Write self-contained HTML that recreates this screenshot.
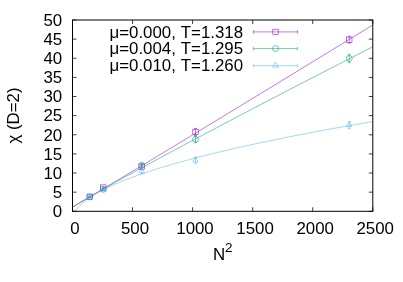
<!DOCTYPE html>
<html><head><meta charset="utf-8"><title>plot</title>
<style>html,body{margin:0;padding:0;background:#fff}body{width:403px;height:282px;overflow:hidden;font-family:"Liberation Sans",sans-serif}svg{will-change:transform}</style></head>
<body>
<svg width="403" height="282" viewBox="0 0 403 282" style="display:block">
<rect width="403" height="282" fill="#fff"/>
<g font-family="Liberation Sans, sans-serif" font-size="16.85" fill="#000">
<path d="M72.5 211.30h4.0M372.8 211.30h-4.0" stroke="#000" stroke-width="0.75" fill="none"/>
<text x="62.2" y="217.10" text-anchor="end">0</text>
<path d="M72.5 192.17h4.0M372.8 192.17h-4.0" stroke="#000" stroke-width="0.75" fill="none"/>
<text x="62.2" y="197.97" text-anchor="end">5</text>
<path d="M72.5 173.04h4.0M372.8 173.04h-4.0" stroke="#000" stroke-width="0.75" fill="none"/>
<text x="62.2" y="178.84" text-anchor="end">10</text>
<path d="M72.5 153.91h4.0M372.8 153.91h-4.0" stroke="#000" stroke-width="0.75" fill="none"/>
<text x="62.2" y="159.71" text-anchor="end">15</text>
<path d="M72.5 134.78h4.0M372.8 134.78h-4.0" stroke="#000" stroke-width="0.75" fill="none"/>
<text x="62.2" y="140.58" text-anchor="end">20</text>
<path d="M72.5 115.65h4.0M372.8 115.65h-4.0" stroke="#000" stroke-width="0.75" fill="none"/>
<text x="62.2" y="121.45" text-anchor="end">25</text>
<path d="M72.5 96.52h4.0M372.8 96.52h-4.0" stroke="#000" stroke-width="0.75" fill="none"/>
<text x="62.2" y="102.32" text-anchor="end">30</text>
<path d="M72.5 77.39h4.0M372.8 77.39h-4.0" stroke="#000" stroke-width="0.75" fill="none"/>
<text x="62.2" y="83.19" text-anchor="end">35</text>
<path d="M72.5 58.26h4.0M372.8 58.26h-4.0" stroke="#000" stroke-width="0.75" fill="none"/>
<text x="62.2" y="64.06" text-anchor="end">40</text>
<path d="M72.5 39.13h4.0M372.8 39.13h-4.0" stroke="#000" stroke-width="0.75" fill="none"/>
<text x="62.2" y="44.93" text-anchor="end">45</text>
<path d="M72.5 20.00h4.0M372.8 20.00h-4.0" stroke="#000" stroke-width="0.75" fill="none"/>
<text x="62.2" y="25.80" text-anchor="end">50</text>
<path d="M72.50 211.3v-4.0M72.50 20.0v4.0" stroke="#000" stroke-width="0.75" fill="none"/>
<text x="74.90" y="234.3" text-anchor="middle">0</text>
<path d="M132.56 211.3v-4.0M132.56 20.0v4.0" stroke="#000" stroke-width="0.75" fill="none"/>
<text x="134.96" y="234.3" text-anchor="middle">500</text>
<path d="M192.62 211.3v-4.0M192.62 20.0v4.0" stroke="#000" stroke-width="0.75" fill="none"/>
<text x="195.02" y="234.3" text-anchor="middle">1000</text>
<path d="M252.68 211.3v-4.0M252.68 20.0v4.0" stroke="#000" stroke-width="0.75" fill="none"/>
<text x="255.08" y="234.3" text-anchor="middle">1500</text>
<path d="M312.74 211.3v-4.0M312.74 20.0v4.0" stroke="#000" stroke-width="0.75" fill="none"/>
<text x="315.14" y="234.3" text-anchor="middle">2000</text>
<path d="M372.80 211.3v-4.0M372.80 20.0v4.0" stroke="#000" stroke-width="0.75" fill="none"/>
<text x="375.20" y="234.3" text-anchor="middle">2500</text>
<text transform="translate(19.2 115.5) rotate(-90)" text-anchor="middle">χ (D=2)</text>
<text x="212.9" y="260.1">N<tspan dy="-8.5" font-size="13.48">2</tspan></text>
<text x="175.9" y="37.50" text-anchor="end">μ=0.000,</text>
<text x="243.1" y="37.50" text-anchor="end">T=1.318</text>
<path d="M253.4 31.9H297.4M253.4 30.2v3.4M297.4 30.2v3.4" stroke="#9400d3" stroke-width="0.55" fill="none"/>
<rect x="272.80" y="29.20" width="5.4" height="5.4" fill="none" stroke="#9400d3" stroke-width="0.55"/>
<text x="175.9" y="54.20" text-anchor="end">μ=0.004,</text>
<text x="243.1" y="54.20" text-anchor="end">T=1.295</text>
<path d="M253.4 48.6H297.4M253.4 46.9v3.4M297.4 46.9v3.4" stroke="#009e73" stroke-width="0.55" fill="none"/>
<circle cx="275.50" cy="48.60" r="3.0" fill="none" stroke="#009e73" stroke-width="0.55"/>
<text x="175.9" y="71.30" text-anchor="end">μ=0.010,</text>
<text x="243.1" y="71.30" text-anchor="end">T=1.260</text>
<path d="M253.4 65.7H297.4M253.4 64.0v3.4M297.4 64.0v3.4" stroke="#56b4e9" stroke-width="0.55" fill="none"/>
<path d="M275.50 62.20L278.30 67.20H272.70Z" fill="none" stroke="#56b4e9" stroke-width="0.55"/>
</g>
<clipPath id="c"><rect x="72.5" y="20.0" width="300.3" height="191.3"/></clipPath>
<g clip-path="url(#c)" fill="none" stroke-width="0.55">
<path d="M72.50 206.90L75.02 205.46L77.55 203.99L80.07 202.52L82.59 201.03L85.12 199.55L87.64 198.06L90.16 196.56L92.69 195.07L95.21 193.57L97.74 192.07L100.26 190.57L102.78 189.06L105.31 187.56L107.83 186.05L110.35 184.54L112.88 183.03L115.40 181.52L117.92 180.01L120.45 178.50L122.97 176.98L125.49 175.47L128.02 173.95L130.54 172.44L133.06 170.92L135.59 169.40L138.11 167.89L140.64 166.37L143.16 164.85L145.68 163.33L148.21 161.80L150.73 160.28L153.25 158.76L155.78 157.24L158.30 155.71L160.82 154.19L163.35 152.67L165.87 151.14L168.39 149.61L170.92 148.09L173.44 146.56L175.96 145.03L178.49 143.51L181.01 141.98L183.54 140.45L186.06 138.92L188.58 137.39L191.11 135.86L193.63 134.33L196.15 132.80L198.68 131.27L201.20 129.74L203.72 128.21L206.25 126.68L208.77 125.14L211.29 123.61L213.82 122.08L216.34 120.55L218.86 119.01L221.39 117.48L223.91 115.94L226.44 114.41L228.96 112.87L231.48 111.34L234.01 109.80L236.53 108.27L239.05 106.73L241.58 105.19L244.10 103.66L246.62 102.12L249.15 100.58L251.67 99.05L254.19 97.51L256.72 95.97L259.24 94.43L261.76 92.89L264.29 91.36L266.81 89.82L269.34 88.28L271.86 86.74L274.38 85.20L276.91 83.66L279.43 82.12L281.95 80.58L284.48 79.04L287.00 77.50L289.52 75.95L292.05 74.41L294.57 72.87L297.09 71.33L299.62 69.79L302.14 68.25L304.66 66.70L307.19 65.16L309.71 63.62L312.24 62.08L314.76 60.53L317.28 58.99L319.81 57.45L322.33 55.90L324.85 54.36L327.38 52.81L329.90 51.27L332.42 49.72L334.95 48.18L337.47 46.64L339.99 45.09L342.52 43.54L345.04 42.00L347.56 40.45L350.09 38.91L352.61 37.36L355.14 35.82L357.66 34.27L360.18 32.72L362.71 31.18L365.23 29.63L367.75 28.08L370.28 26.54L372.80 24.99" stroke="#9400d3"/>
<path d="M72.50 207.47L75.02 205.79L77.55 204.21L80.07 202.68L82.59 201.16L85.12 199.66L87.64 198.18L90.16 196.70L92.69 195.24L95.21 193.79L97.74 192.34L100.26 190.90L102.78 189.46L105.31 188.04L107.83 186.61L110.35 185.19L112.88 183.78L115.40 182.37L117.92 180.96L120.45 179.56L122.97 178.16L125.49 176.76L128.02 175.36L130.54 173.97L133.06 172.59L135.59 171.20L138.11 169.82L140.64 168.44L143.16 167.06L145.68 165.68L148.21 164.31L150.73 162.94L153.25 161.57L155.78 160.20L158.30 158.83L160.82 157.47L163.35 156.11L165.87 154.75L168.39 153.39L170.92 152.03L173.44 150.68L175.96 149.32L178.49 147.97L181.01 146.62L183.54 145.27L186.06 143.92L188.58 142.58L191.11 141.23L193.63 139.89L196.15 138.54L198.68 137.20L201.20 135.86L203.72 134.52L206.25 133.19L208.77 131.85L211.29 130.51L213.82 129.18L216.34 127.85L218.86 126.51L221.39 125.18L223.91 123.85L226.44 122.52L228.96 121.19L231.48 119.87L234.01 118.54L236.53 117.22L239.05 115.89L241.58 114.57L244.10 113.25L246.62 111.92L249.15 110.60L251.67 109.28L254.19 107.97L256.72 106.65L259.24 105.33L261.76 104.01L264.29 102.70L266.81 101.38L269.34 100.07L271.86 98.76L274.38 97.44L276.91 96.13L279.43 94.82L281.95 93.51L284.48 92.20L287.00 90.89L289.52 89.58L292.05 88.28L294.57 86.97L297.09 85.66L299.62 84.36L302.14 83.05L304.66 81.75L307.19 80.45L309.71 79.14L312.24 77.84L314.76 76.54L317.28 75.24L319.81 73.94L322.33 72.64L324.85 71.34L327.38 70.04L329.90 68.74L332.42 67.45L334.95 66.15L337.47 64.85L339.99 63.56L342.52 62.26L345.04 60.97L347.56 59.68L350.09 58.38L352.61 57.09L355.14 55.80L357.66 54.51L360.18 53.21L362.71 51.92L365.23 50.63L367.75 49.34L370.28 48.06L372.80 46.77" stroke="#009e73"/>
<path d="M72.62 218.47L74.13 213.53L75.64 210.84L77.15 208.73L78.65 206.94L80.16 205.35L81.67 203.91L83.18 202.58L84.69 201.33L86.20 200.16L87.70 199.05L89.21 197.99L90.72 196.98L92.23 196.01L93.74 195.07L95.25 194.16L96.76 193.29L98.26 192.43L99.77 191.61L101.28 190.80L102.79 190.02L104.30 189.25L105.81 188.50L107.31 187.77L108.82 187.05L110.33 186.34L111.84 185.65L113.35 184.98L114.86 184.31L116.36 183.66L117.87 183.01L119.38 182.38L120.89 181.76L122.40 181.14L123.91 180.54L125.42 179.94L126.92 179.35L128.43 178.77L129.94 178.20L131.45 177.63L132.96 177.07L134.47 176.52L135.97 175.98L137.48 175.44L138.99 174.90L140.50 174.38L142.01 173.85L143.52 173.34L145.03 172.83L146.53 172.32L148.04 171.82L149.55 171.32L151.06 170.83L152.57 170.34L154.08 169.86L155.58 169.38L157.09 168.91L158.60 168.44L160.11 167.97L161.62 167.51L163.13 167.05L164.64 166.60L166.14 166.15L167.65 165.70L169.16 165.25L170.67 164.81L172.18 164.38L173.69 163.94L175.19 163.51L176.70 163.08L178.21 162.66L179.72 162.23L181.23 161.81L182.74 161.40L184.24 160.98L185.75 160.57L187.26 160.16L188.77 159.76L190.28 159.35L191.79 158.95L193.30 158.56L194.80 158.16L196.31 157.77L197.82 157.37L199.33 156.98L200.84 156.60L202.35 156.21L203.85 155.83L205.36 155.45L206.87 155.07L208.38 154.69L209.89 154.32L211.40 153.95L212.91 153.58L214.41 153.21L215.92 152.84L217.43 152.48L218.94 152.11L220.45 151.75L221.96 151.39L223.46 151.04L224.97 150.68L226.48 150.33L227.99 149.97L229.50 149.62L231.01 149.27L232.51 148.93L234.02 148.58L235.53 148.24L237.04 147.89L238.55 147.55L240.06 147.21L241.57 146.87L243.07 146.54L244.58 146.20L246.09 145.87L247.60 145.53L249.11 145.20L250.62 144.87L252.12 144.54L253.63 144.22L255.14 143.89L256.65 143.57L258.16 143.24L259.67 142.92L261.18 142.60L262.68 142.28L264.19 141.96L265.70 141.64L267.21 141.33L268.72 141.01L270.23 140.70L271.73 140.39L273.24 140.08L274.75 139.77L276.26 139.46L277.77 139.15L279.28 138.84L280.79 138.54L282.29 138.23L283.80 137.93L285.31 137.63L286.82 137.32L288.33 137.02L289.84 136.72L291.34 136.43L292.85 136.13L294.36 135.83L295.87 135.54L297.38 135.24L298.89 134.95L300.39 134.65L301.90 134.36L303.41 134.07L304.92 133.78L306.43 133.49L307.94 133.20L309.45 132.92L310.95 132.63L312.46 132.35L313.97 132.06L315.48 131.78L316.99 131.49L318.50 131.21L320.00 130.93L321.51 130.65L323.02 130.37L324.53 130.09L326.04 129.81L327.55 129.54L329.06 129.26L330.56 128.98L332.07 128.71L333.58 128.44L335.09 128.16L336.60 127.89L338.11 127.62L339.61 127.35L341.12 127.08L342.63 126.81L344.14 126.54L345.65 126.27L347.16 126.00L348.66 125.74L350.17 125.47L351.68 125.21L353.19 124.94L354.70 124.68L356.21 124.41L357.72 124.15L359.22 123.89L360.73 123.63L362.24 123.37L363.75 123.11L365.26 122.85L366.77 122.59L368.27 122.33L369.78 122.07L371.29 121.82L372.80 121.56" stroke="#56b4e9"/>
</g>
<g fill="none" stroke-width="0.55">
<path d="M89.80 196.19V197.34M88.30 196.19h3M88.30 197.34h3" stroke="#9400d3"/>
<rect x="87.10" y="194.06" width="5.4" height="5.4" fill="none" stroke="#9400d3" stroke-width="0.55"/>
<path d="M103.25 186.81V188.34M101.75 186.81h3M101.75 188.34h3" stroke="#9400d3"/>
<rect x="100.55" y="184.88" width="5.4" height="5.4" fill="none" stroke="#9400d3" stroke-width="0.55"/>
<path d="M141.69 164.81V168.64M140.19 164.81h3M140.19 168.64h3" stroke="#9400d3"/>
<rect x="138.99" y="164.03" width="5.4" height="5.4" fill="none" stroke="#9400d3" stroke-width="0.55"/>
<path d="M195.50 128.47V135.35M194.00 128.47h3M194.00 135.35h3" stroke="#9400d3"/>
<rect x="192.80" y="129.21" width="5.4" height="5.4" fill="none" stroke="#9400d3" stroke-width="0.55"/>
<path d="M349.26 36.26V43.15M347.76 36.26h3M347.76 43.15h3" stroke="#9400d3"/>
<rect x="346.56" y="37.00" width="5.4" height="5.4" fill="none" stroke="#9400d3" stroke-width="0.55"/>
<path d="M89.80 196.38V197.53M88.30 196.38h3M88.30 197.53h3" stroke="#009e73"/>
<circle cx="89.80" cy="196.95" r="3.0" fill="none" stroke="#009e73" stroke-width="0.55"/>
<path d="M103.25 188.54V190.07M101.75 188.54h3M101.75 190.07h3" stroke="#009e73"/>
<circle cx="103.25" cy="189.30" r="3.0" fill="none" stroke="#009e73" stroke-width="0.55"/>
<path d="M141.69 163.28V167.11M140.19 163.28h3M140.19 167.11h3" stroke="#009e73"/>
<circle cx="141.69" cy="165.20" r="3.0" fill="none" stroke="#009e73" stroke-width="0.55"/>
<path d="M195.50 136.12V142.62M194.00 136.12h3M194.00 142.62h3" stroke="#009e73"/>
<circle cx="195.50" cy="139.37" r="3.0" fill="none" stroke="#009e73" stroke-width="0.55"/>
<path d="M349.26 54.24V62.66M347.76 54.24h3M347.76 62.66h3" stroke="#009e73"/>
<circle cx="349.26" cy="58.45" r="3.0" fill="none" stroke="#009e73" stroke-width="0.55"/>
<path d="M89.80 196.57V197.72M88.30 196.57h3M88.30 197.72h3" stroke="#56b4e9"/>
<path d="M89.80 193.64L92.60 198.64H87.00Z" fill="none" stroke="#56b4e9" stroke-width="0.55"/>
<path d="M103.25 188.92V190.45M101.75 188.92h3M101.75 190.45h3" stroke="#56b4e9"/>
<path d="M103.25 186.18L106.05 191.18H100.45Z" fill="none" stroke="#56b4e9" stroke-width="0.55"/>
<path d="M141.69 168.83V173.81M140.19 168.83h3M140.19 173.81h3" stroke="#56b4e9"/>
<path d="M141.69 167.82L144.49 172.82H138.89Z" fill="none" stroke="#56b4e9" stroke-width="0.55"/>
<path d="M195.50 157.12V163.70M194.00 157.12h3M194.00 163.70h3" stroke="#56b4e9"/>
<path d="M195.50 156.91L198.30 161.91H192.70Z" fill="none" stroke="#56b4e9" stroke-width="0.55"/>
<path d="M349.26 121.77V128.66M347.76 121.77h3M347.76 128.66h3" stroke="#56b4e9"/>
<path d="M349.26 121.72L352.06 126.72H346.46Z" fill="none" stroke="#56b4e9" stroke-width="0.55"/>
</g>
<rect x="72.5" y="20.0" width="300.3" height="191.3" fill="none" stroke="#000" stroke-width="1.0"/>
</svg>
</body></html>
